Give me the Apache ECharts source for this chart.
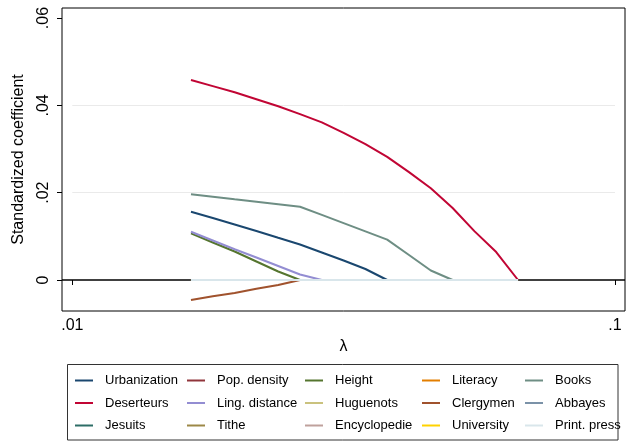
<!DOCTYPE html>
<html>
<head>
<meta charset="utf-8">
<script src="https://cdn.jsdelivr.net/npm/echarts@6/dist/echarts.min.js"></script>
<style>
html,body{margin:0;padding:0;background:#fff;}
#chart{width:631px;height:443px;}
</style>
</head>
<body>
<div id="chart"></div>
<script>
// lambda grid (x values)
const lambda = [0.016545, 0.018150, 0.019913, 0.021838, 0.023954, 0.026279, 0.028826, 0.031616,
                0.034682, 0.038037, 0.041727, 0.045770, 0.050209, 0.055064, 0.060409, 0.066269];

// standardized coefficients per variable
const urbanization = [0.01564, 0.01420, 0.01271, 0.01122, 0.00966, 0.00813, 0.00630, 0.00447, 0.00252, 0, 0, 0, 0, 0, 0, 0];
const popDensity   = [0, 0, 0, 0, 0, 0, 0, 0, 0, 0, 0, 0, 0, 0, 0, 0];
const height       = [0.01069, 0.00859, 0.00653, 0.00424, 0.00195, 0, 0, 0, 0, 0, 0, 0, 0, 0, 0, 0];
const literacy     = [0, 0, 0, 0, 0, 0, 0, 0, 0, 0, 0, 0, 0, 0, 0, 0];
const books        = [0.01962, 0.01905, 0.01848, 0.01793, 0.01736, 0.01679, 0.01491, 0.01303, 0.01115, 0.00925, 0.00573, 0.00218, 0, 0, 0, 0];
const deserteurs   = [0.0458, 0.0444, 0.0430, 0.0414, 0.0398, 0.0380, 0.0361, 0.0337, 0.0311, 0.0282, 0.0247, 0.0210, 0.0165, 0.0112, 0.0064, 0];
const lingDistance = [0.01106, 0.00905, 0.00705, 0.00515, 0.00321, 0.00126, 0, 0, 0, 0, 0, 0, 0, 0, 0, 0];
const huguenots    = [0, 0, 0, 0, 0, 0, 0, 0, 0, 0, 0, 0, 0, 0, 0, 0];
const clergymen    = [-0.00458, -0.00373, -0.00299, -0.00202, -0.00115, 0, 0, 0, 0, 0, 0, 0, 0, 0, 0, 0];
const abbayes      = [0, 0, 0, 0, 0, 0, 0, 0, 0, 0, 0, 0, 0, 0, 0, 0];
const jesuits      = [0, 0, 0, 0, 0, 0, 0, 0, 0, 0, 0, 0, 0, 0, 0, 0];
const tithe        = [0, 0, 0, 0, 0, 0, 0, 0, 0, 0, 0, 0, 0, 0, 0, 0];
const encyclopedie = [0, 0, 0, 0, 0, 0, 0, 0, 0, 0, 0, 0, 0, 0, 0, 0];
const university   = [0, 0, 0, 0, 0, 0, 0, 0, 0, 0, 0, 0, 0, 0, 0, 0];
const printPress   = [0, 0, 0, 0, 0, 0, 0, 0, 0, 0, 0, 0, 0, 0, 0, 0];

const seriesNames = ['Urbanization','Pop. density','Height','Literacy','Books',
                     'Deserteurs','Ling. distance','Huguenots','Clergymen','Abbayes',
                     'Jesuits','Tithe','Encyclopedie','University','Print. press'];
const seriesValues = [urbanization, popDensity, height, literacy, books,
                      deserteurs, lingDistance, huguenots, clergymen, abbayes,
                      jesuits, tithe, encyclopedie, university, printPress];
const seriesColors = ['#1a476f','#90353b','#55752f','#e37e00','#6e8e84',
                      '#c10534','#938dd2','#cac27e','#a0522d','#7b92a8',
                      '#2d6d66','#9c8847','#bfa19c','#ffd200','#d9e6eb'];

const xTicks = [0.01, 0.1];
const yTicks = [0, 0.02, 0.04, 0.06];
const yGrid = [0.02, 0.04];

const FONT = "'Liberation Sans', Arial, Helvetica, sans-serif";
const fmt = v => { const s = String(+v.toFixed(4)); return s.replace(/^0\./, '.').replace(/^-0\./, '-.'); };

const series = seriesNames.map((name, i) => ({
  name: name,
  type: 'line',
  data: lambda.map((l, j) => [l, seriesValues[i][j]]),
  showSymbol: false,
  symbol: 'none',
  color: seriesColors[i],
  lineStyle: { width: 2, color: seriesColors[i] },
  z: 2,
  animation: false
}));

series[0].markLine = {
  silent: true, symbol: 'none', z: 1, animation: false,
  label: { show: false },
  data: [
    { yAxis: 0, lineStyle: { color: '#000', width: 1.5, type: 'solid' } }
  ].concat(yGrid.map(g => [
    { coord: [xTicks[0], g], lineStyle: { color: '#eaeaea', width: 1, type: 'solid' } },
    { coord: [xTicks[xTicks.length - 1], g] }
  ]))
};

// legend columns (Stata fills rows across 5 columns)
const colLeft = [75, 187, 305, 422, 525];
const legends = colLeft.map((left, c) => ({
  orient: 'vertical',
  left: left,
  top: 373.5,
  itemWidth: 18,
  itemHeight: 2,
  itemGap: 8.5,
  icon: 'rect',
  selectedMode: false,
  padding: 0,
  textStyle: { fontFamily: FONT, fontSize: 13, color: '#000', lineHeight: 14, padding: [0, 0, 0, 7] },
  data: [seriesNames[c], seriesNames[c + 5], seriesNames[c + 10]]
}));

const chart = echarts.init(document.getElementById('chart'), null, { renderer: 'canvas' });
chart.setOption({
  animation: false,
  backgroundColor: '#fff',
  grid: { left: 62, right: 6, top: 8, bottom: 132, show: true, borderColor: '#000', borderWidth: 1, backgroundColor: 'transparent' },
  legend: legends,
  xAxis: {
    type: 'log',
    min: 0.009572,
    max: 0.10433,
    name: 'λ',
    nameLocation: 'middle',
    nameGap: 24,
    nameTextStyle: { fontFamily: FONT, fontSize: 16, color: '#000' },
    axisLine: { show: false },
    axisTick: { show: true, length: 5, lineStyle: { color: '#000', width: 1 }, customValues: xTicks },
    axisLabel: { fontFamily: FONT, fontSize: 16, color: '#000', margin: 7, customValues: xTicks, formatter: fmt },
    splitLine: { show: false },
    minorTick: { show: false }
  },
  yAxis: {
    type: 'value',
    min: -0.0071,
    max: 0.0623,
    name: 'Standardized coefficient',
    nameLocation: 'middle',
    nameGap: 35,
    nameTextStyle: { fontFamily: FONT, fontSize: 16, color: '#000' },
    axisLine: { show: false },
    axisTick: { show: true, length: 5, lineStyle: { color: '#000', width: 1 }, customValues: yTicks },
    axisLabel: { fontFamily: FONT, fontSize: 16, color: '#000', margin: 10, rotate: 90, customValues: yTicks, formatter: fmt },
    splitLine: { show: false }
  },
  graphic: [{
    type: 'rect',
    shape: { x: 67.5, y: 364.5, width: 550.5, height: 75.5 },
    style: { fill: 'none', stroke: '#333', lineWidth: 1 },
    silent: true
  }],
  series: series
});
</script>
</body>
</html>
